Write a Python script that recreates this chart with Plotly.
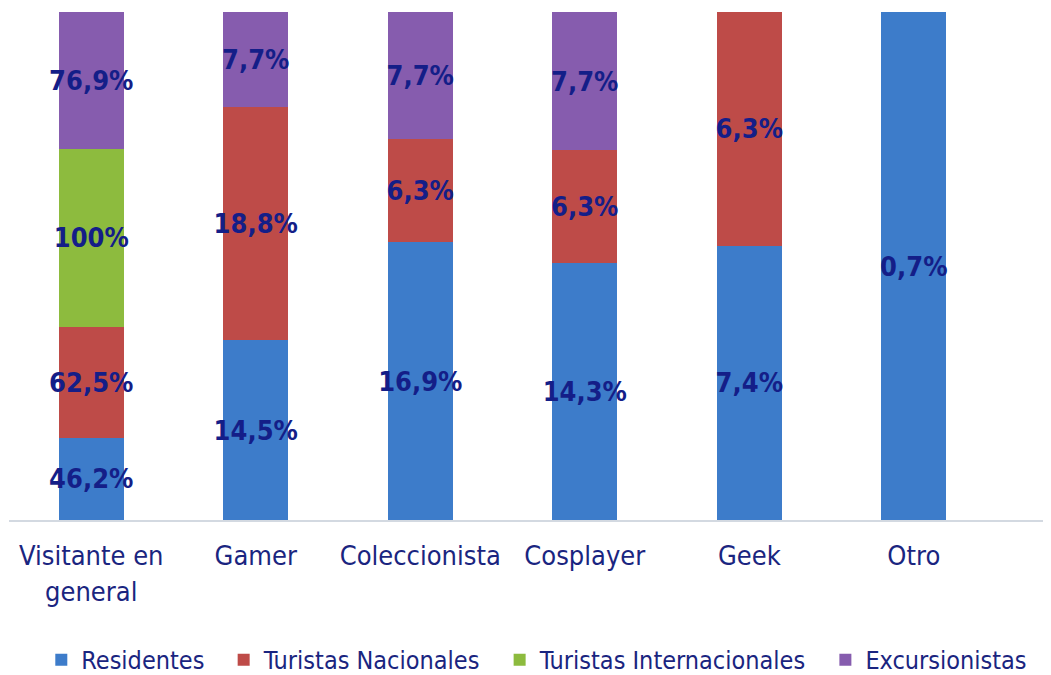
import plotly.graph_objects as go

categories = ["Visitante en<br>general", "Gamer", "Coleccionista", "Cosplayer", "Geek", "Otro"]
residentes = [46.2, 14.5, 16.9, 14.3, 7.4, 0.7]
turistas_nacionales = [62.5, 18.8, 6.3, 6.3, 6.3, None]
turistas_internacionales = [100, None, None, None, None, None]
excursionistas = [76.9, 7.7, 7.7, 7.7, None, None]

series = [
    ("Residentes", residentes, "#3D7CCA"),
    ("Turistas Nacionales", turistas_nacionales, "#BE4B48"),
    ("Turistas Internacionales", turistas_internacionales, "#8DBB3E"),
    ("Excursionistas", excursionistas, "#865CAE"),
]

def fmt(v):
    if v is None:
        return ""
    if float(v).is_integer():
        return f"{int(v)}%"
    return f"{v:.1f}%".replace(".", ",")

FONT = "Liberation Sans Narrow, Arial Narrow, DejaVu Sans Condensed, Liberation Sans, sans-serif"
NAVY = "#1A2580"
PAD = "\u00a0\u00a0"

fig = go.Figure()
for i, (name, vals, color) in enumerate(series):
    fig.add_trace(go.Bar(
        name=name + (PAD if i < len(series) - 1 else ""),
        x=categories,
        y=vals,
        marker=dict(color=color, line=dict(width=0)),
        width=0.395,
        text=[fmt(v) for v in vals],
        textposition="inside",
        insidetextanchor="middle",
        textangle=0,
        constraintext="none",
        textfont=dict(family=FONT, size=27, color="#141E88", weight="bold"),
        hoverinfo="skip",
    ))

fig.update_layout(
    barmode="stack",
    barnorm="percent",
    width=1051,
    height=675,
    margin=dict(l=1, r=8, t=4, b=162),
    plot_bgcolor="white",
    paper_bgcolor="white",
    font=dict(family=FONT, color=NAVY),
    showlegend=True,
    legend=dict(
        orientation="h",
        x=0.031, xanchor="left",
        y=-0.273, yanchor="middle",
        font=dict(family=FONT, size=25, color=NAVY),
        itemwidth=30,
        traceorder="normal",
    ),
    xaxis=dict(
        range=[-0.5, 5.834],
        showline=True,
        linecolor="#D3D9E1",
        linewidth=2,
        ticks="",
        ticklabelstandoff=11,
        showgrid=False,
        tickfont=dict(family=FONT, size=27, color=NAVY),
        zeroline=False,
    ),
    yaxis=dict(
        range=[0, 100],
        visible=False,
        showgrid=False,
        zeroline=False,
    ),
)

fig.write_html("out.html")
